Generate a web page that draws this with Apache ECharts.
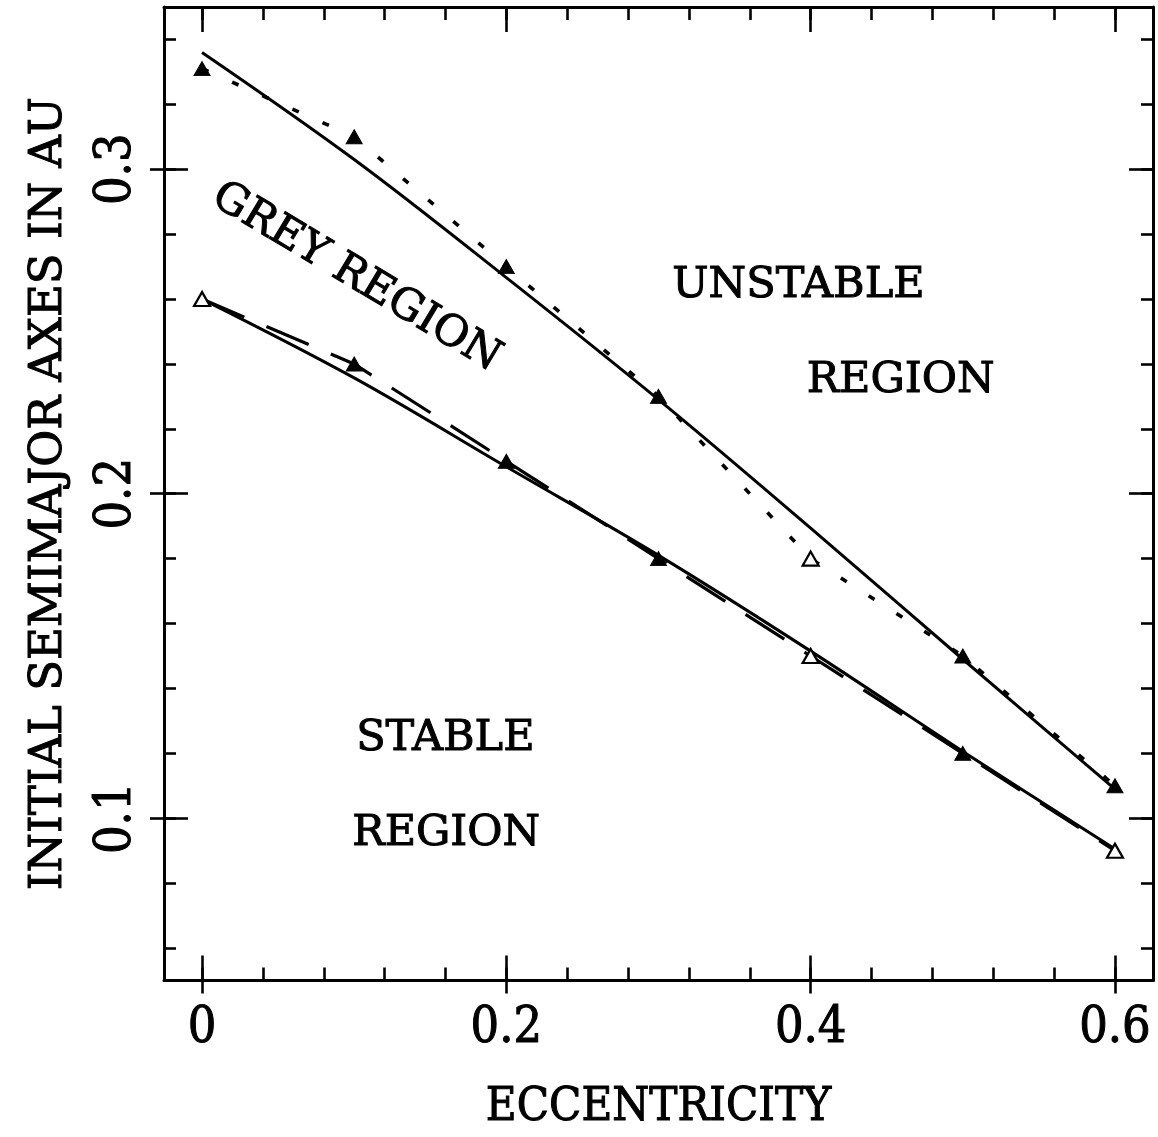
<!DOCTYPE html>
<html>
<head>
<meta charset="utf-8">
<script src="https://cdn.jsdelivr.net/npm/echarts@6/dist/echarts.min.js"></script>
<style>
  html, body { margin: 0; padding: 0; background: #ffffff; }
  #chart { width: 1158px; height: 1137px; }
</style>
</head>
<body>
<div id="chart"></div>
<script>
// Orbital eccentricity of the sampled orbits
const eccentricity = [0, 0.1, 0.2, 0.3, 0.4, 0.5, 0.6];

// Outer boundary (onset of instability): integrated points and fitted curve
const upperPoints = [0.331, 0.310, 0.270, 0.230, 0.180, 0.150, 0.110];
const upperOpen   = [false, false, false, false, true, false, false];
const upperFit    = [0.336, 0.303, 0.2666, 0.229, 0.1894, 0.149, 0.109];

// Inner boundary (limit of stable orbits): integrated points and fitted curve
const lowerPoints = [0.260, 0.240, 0.210, 0.180, 0.150, 0.120, 0.090];
const lowerOpen   = [true, false, false, false, true, false, true];
const lowerFit    = [0.260, 0.2357, 0.2083, 0.181, 0.1515, 0.1206, 0.0905];

// Axis ticks and labels
const xTickLabels = [0, 0.2, 0.4, 0.6];
const xTicks = [0, 0.04, 0.08, 0.12, 0.16, 0.2, 0.24, 0.28, 0.32, 0.36, 0.4, 0.44, 0.48, 0.52, 0.56, 0.6];
const yTickLabels = [0.1, 0.2, 0.3];
const yTicks = [0.06, 0.08, 0.1, 0.12, 0.14, 0.16, 0.18, 0.2, 0.22, 0.24, 0.26, 0.28, 0.3, 0.32, 0.34];

// Region names, anchored in data coordinates
const regionNames  = ['GREY REGION', 'UNSTABLE', 'REGION', 'STABLE', 'REGION'];
const regionX      = [0.1013, 0.392, 0.4592, 0.1599, 0.1605];
const regionY      = [0.2666, 0.2641, 0.2347, 0.1245, 0.0951];
const regionAngle  = [-31, 0, 0, 0, 0];

const X_MIN = -0.025, X_MAX = 0.625, Y_MIN = 0.05, Y_MAX = 0.35;
const INK = '#000000';
const LABEL_FONT = '"DejaVu Serif Condensed", "DejaVu Serif", serif';
const TEXT_FONT = '"DejaVu Serif", serif';
// a thin outline in the text colour gives the heavy, inked look of the lettering
const heavy = { color: INK, textBorderColor: INK, textBorderWidth: 1 };

const pairs = (xs, ys) => xs.map((x, i) => [x, ys[i]]);
const markers = (ys, open) => ys.map((y, i) => ({
  value: [eccentricity[i], y],
  itemStyle: open[i]
    ? { color: '#ffffff', borderColor: INK, borderWidth: 2.2, opacity: 1 }
    : { color: INK, borderColor: INK, borderWidth: 1, opacity: 1 }
}));

function xAxisPart(opts) {
  return Object.assign({
    type: 'value', min: X_MIN, max: X_MAX, position: 'bottom',
    splitLine: { show: false },
    axisLine: { show: false, onZero: false },
    axisLabel: { show: false },
    axisTick: { show: false }
  }, opts);
}
function yAxisPart(opts) {
  return Object.assign({
    type: 'value', min: Y_MIN, max: Y_MAX, position: 'left',
    splitLine: { show: false },
    axisLine: { show: false, onZero: false },
    axisLabel: { show: false },
    axisTick: { show: false }
  }, opts);
}
const frame = { show: true, onZero: false, lineStyle: { color: INK, width: 3 } };
const tick = (values, inside, length) => ({
  show: true, inside: inside, length: length, customValues: values,
  lineStyle: { color: INK, width: 2.6 }
});

const option = {
  backgroundColor: '#ffffff',
  animation: false,
  grid: { left: 164, right: 5, top: 7, bottom: 153, containLabel: false },
  xAxis: [
    xAxisPart({
      axisLine: frame,
      axisTick: tick(xTicks, true, 13),
      axisLabel: Object.assign({
        show: true, customValues: xTickLabels, margin: 24,
        fontFamily: LABEL_FONT, fontSize: 50,
        formatter: v => (v === 0 ? '0' : String(v))
      }, heavy),
      name: 'ECCENTRICITY', nameLocation: 'middle', nameGap: 104,
      nameTextStyle: Object.assign({ fontFamily: LABEL_FONT, fontSize: 47 }, heavy)
    }),
    xAxisPart({ axisTick: tick(xTickLabels, true, 25) }),
    xAxisPart({ axisTick: tick(xTickLabels, false, 13) }),
    xAxisPart({ position: 'top', axisLine: frame, axisTick: tick(xTicks, true, 13) }),
    xAxisPart({ position: 'top', axisTick: tick(xTickLabels, true, 25) })
  ],
  yAxis: [
    yAxisPart({
      axisLine: frame,
      axisTick: tick(yTicks, true, 12),
      axisLabel: Object.assign({
        show: true, customValues: yTickLabels, margin: 22, rotate: 90,
        fontFamily: LABEL_FONT, fontSize: 50
      }, heavy),
      name: 'INITIAL SEMIMAJOR AXES IN AU', nameLocation: 'middle', nameGap: 92,
      nameTextStyle: Object.assign({ fontFamily: TEXT_FONT, fontSize: 45 }, heavy)
    }),
    yAxisPart({ axisTick: tick(yTickLabels, true, 24) }),
    yAxisPart({ axisTick: tick(yTickLabels, false, 14) }),
    yAxisPart({ position: 'right', axisLine: frame, axisTick: tick(yTicks, true, 12) }),
    yAxisPart({ position: 'right', axisTick: tick(yTickLabels, true, 24) })
  ],
  series: [
    {
      name: 'outer fit', type: 'line', data: pairs(eccentricity, upperFit),
      symbol: 'none', smooth: 0.35, z: 3,
      lineStyle: { color: INK, width: 3 }
    },
    {
      name: 'inner fit', type: 'line', data: pairs(eccentricity, lowerFit),
      symbol: 'none', smooth: 0.35, z: 3,
      lineStyle: { color: INK, width: 3 }
    },
    {
      name: 'outer boundary', type: 'line', data: pairs(eccentricity, upperPoints),
      symbol: 'none', z: 2,
      lineStyle: { color: INK, width: 3.6, type: [7, 26] }
    },
    {
      name: 'inner boundary', type: 'line', data: pairs(eccentricity, lowerPoints),
      symbol: 'none', z: 2,
      lineStyle: { color: INK, width: 3.2, type: [46, 24] }
    },
    {
      name: 'outer points', type: 'scatter', symbol: 'triangle', symbolSize: [16, 14],
      itemStyle: { opacity: 1 },
      data: markers(upperPoints, upperOpen), z: 5
    },
    {
      name: 'inner points', type: 'scatter', symbol: 'triangle', symbolSize: [16, 14],
      itemStyle: { opacity: 1 },
      data: markers(lowerPoints, lowerOpen), z: 5
    },
    {
      name: 'regions', type: 'scatter', symbolSize: 0, silent: true, z: 6,
      itemStyle: { opacity: 1 },
      data: regionNames.map((t, i) => ({
        value: [regionX[i], regionY[i]],
        label: Object.assign({
          show: true, position: 'inside', formatter: t, rotate: regionAngle[i],
          fontFamily: TEXT_FONT, fontSize: 43, opacity: 1
        }, heavy)
      }))
    }
  ]
};

const chart = echarts.init(document.getElementById('chart'), null, { renderer: 'canvas' });
chart.setOption(option);
</script>
</body>
</html>
